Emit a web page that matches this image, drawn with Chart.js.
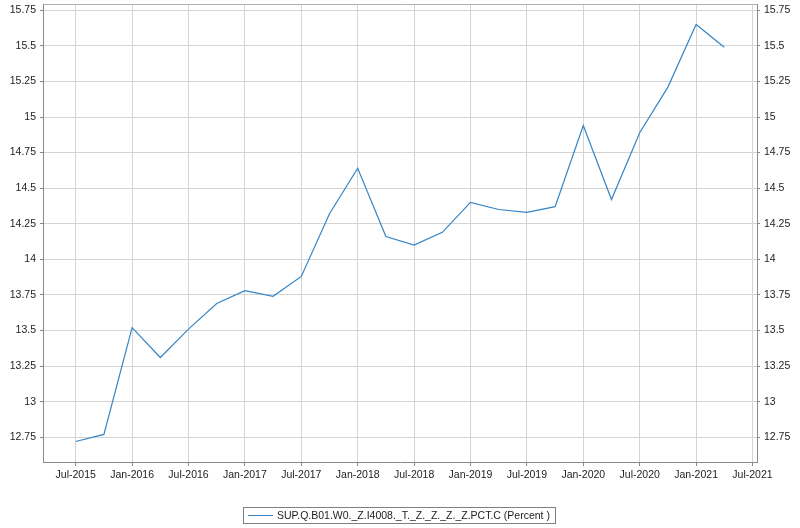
<!DOCTYPE html>
<html>
<head>
<meta charset="utf-8">
<script src="https://cdn.jsdelivr.net/npm/chart.js@4/dist/chart.umd.min.js"></script>
<style>
  html, body { margin: 0; padding: 0; background: #fff; }
  #wrap { position: relative; width: 800px; height: 528px; }
  #legend {
    position: absolute; left: 243px; top: 507px; width: 311px; height: 15px;
    border: 1px solid #808080; box-sizing: content-box;
    font: 10.5px "Liberation Sans", Arial, sans-serif; color: #222;
    line-height: 15px; white-space: nowrap;
  }
  #legend .swatch {
    position: absolute; left: 4px; top: 7px; width: 25px; height: 0;
    border-top: 1px solid #3585c6;
  }
  #legend .txt { position: absolute; left: 33px; top: 0; }
</style>
</head>
<body>
<div id="wrap">
  <canvas id="chart" width="800" height="528"></canvas>
  <div id="legend"><span class="swatch"></span><span class="txt" id="legendText"></span></div>
</div>
<script>
"use strict";

// ── Data ──────────────────────────────────────────────────────────────────
const seriesName = "SUP.Q.B01.W0._Z.I4008._T._Z._Z._Z._Z.PCT.C (Percent )";

const quarters = [
  "2015-Q3", "2015-Q4", "2016-Q1", "2016-Q2", "2016-Q3", "2016-Q4",
  "2017-Q1", "2017-Q2", "2017-Q3", "2017-Q4", "2018-Q1", "2018-Q2",
  "2018-Q3", "2018-Q4", "2019-Q1", "2019-Q2", "2019-Q3", "2019-Q4",
  "2020-Q1", "2020-Q2", "2020-Q3", "2020-Q4", "2021-Q1", "2021-Q2"
];

const values = [
  12.72, 12.77, 13.52, 13.31, 13.51, 13.69,
  13.78, 13.74, 13.88, 14.32, 14.64, 14.16,
  14.10, 14.19, 14.40, 14.35, 14.33, 14.37,
  14.94, 14.42, 14.89, 15.21, 15.65, 15.49
];

// one tick label every two quarters, starting at the first quarter
const xTickLabels = [
  "Jul-2015", "Jan-2016", "Jul-2016", "Jan-2017", "Jul-2017", "Jan-2018",
  "Jul-2018", "Jan-2019", "Jul-2019", "Jan-2020", "Jul-2020", "Jan-2021", "Jul-2021"
];

const yTicks = [12.75, 13, 13.25, 13.5, 13.75, 14, 14.25, 14.5, 14.75, 15, 15.25, 15.5, 15.75];

// ── Chart ─────────────────────────────────────────────────────────────────
document.getElementById("legendText").textContent = seriesName;

const FONT  = { family: "'Liberation Sans', Arial, sans-serif", size: 10.5 };
const AXIS  = "#8a8a8a";
const GRID  = "#d4d4d4";
const TEXT  = "#222";
const LINE  = "#3585c6";

const yMin = 12.576, yMax = 15.794;

function yAxis(position, showGrid) {
  return {
    type: "linear",
    position,
    min: yMin,
    max: yMax,
    afterBuildTicks: s => { s.ticks = yTicks.map(v => ({ value: v })); },
    afterFit: s => { s.width = 43; s.paddingTop = 0; s.paddingBottom = 0; },
    border: { color: AXIS, width: 1 },
    grid: {
      display: true,
      drawOnChartArea: showGrid,
      color: GRID,
      tickColor: AXIS,
      tickLength: 3,
    },
    ticks: {
      color: TEXT,
      font: FONT,
      padding: 4,
      callback: v => String(v),
    },
  };
}

new Chart(document.getElementById("chart"), {
  type: "line",
  data: {
    datasets: [{
      label: seriesName,
      data: values.map((v, i) => ({ x: i, y: v })),
      borderColor: LINE,
      borderWidth: 1.2,
      pointRadius: 0,
      tension: 0,
      fill: false,
    }],
  },
  options: {
    responsive: false,
    animation: false,
    layout: { padding: { left: 0, right: 0, top: 4, bottom: 46 } },
    plugins: { legend: { display: false }, tooltip: { enabled: false } },
    scales: {
      x: {
        type: "linear",
        position: "bottom",
        min: -1.16,
        max: 24.16,
        afterBuildTicks: s => { s.ticks = xTickLabels.map((_, i) => ({ value: i * 2 })); },
        afterFit: s => { s.height = 20; },
        border: { color: AXIS, width: 1 },
        grid: { color: GRID, tickColor: AXIS, tickLength: 4 },
        ticks: {
          color: TEXT,
          font: FONT,
          padding: 3,
          maxRotation: 0,
          autoSkip: false,
          callback: v => xTickLabels[Math.round(v / 2)],
        },
      },
      xTop: {
        type: "linear",
        position: "top",
        min: -1.16,
        max: 24.16,
        afterFit: s => { s.height = 0; },
        border: { color: "#b0b0b0", width: 1 },
        grid: { drawOnChartArea: false, drawTicks: false },
        ticks: { display: false },
      },
      y: yAxis("left", true),
      yRight: yAxis("right", false),
    },
  },
});
</script>
</body>
</html>
